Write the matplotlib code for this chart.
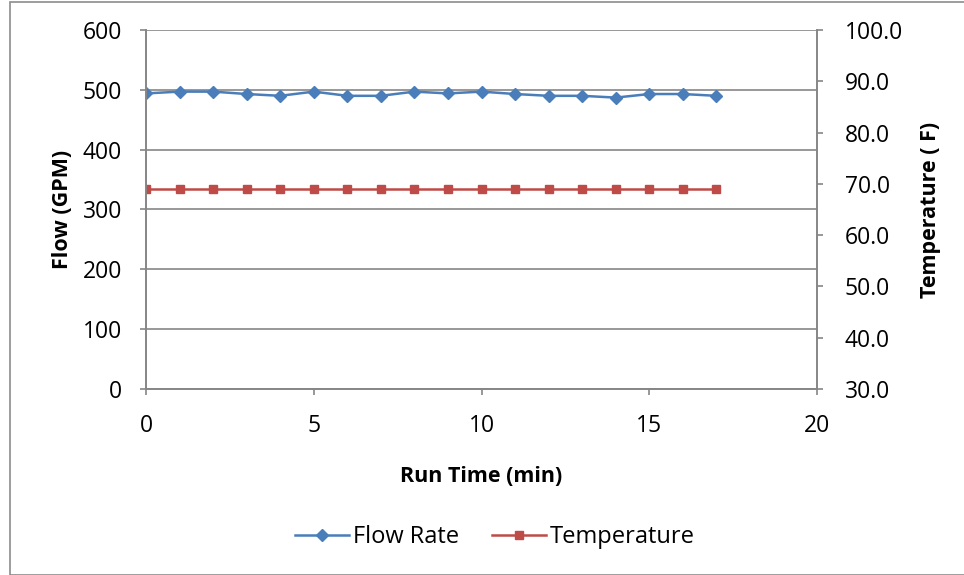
import matplotlib.pyplot as plt
from matplotlib.patches import Rectangle
from matplotlib.lines import Line2D

# Data
run_time = list(range(18))
flow_rate = [494, 497, 497, 493, 490, 497, 490, 490, 497, 494,
             497, 493, 490, 490, 487, 493, 493, 490]
temperature = [69.0] * 18

plt.rcParams['font.family'] = ['Open Sans', 'DejaVu Sans']

W, H = 964, 575
fig = plt.figure(figsize=(W / 100, H / 100), dpi=100)

# chart area border
fig.patches.append(Rectangle((10 / W, 0), 1.0, 1 - 2 / H, transform=fig.transFigure,
                             fill=False, edgecolor='#8c8c8c', linewidth=1.2))

ax = fig.add_axes([146 / W, 1 - 389 / H, (817 - 146) / W, (389 - 30) / H])
ax2 = ax.twinx()

blue = '#4a7ebb'
red = '#be4b48'
grid = '#868686'

ax.plot(run_time, flow_rate, color=blue, marker='D', markersize=6, linewidth=1.8)
ax2.plot(run_time, temperature, color=red, marker='s', markersize=6, linewidth=1.8)

ax.set_xlim(0, 20)
ax.set_ylim(0, 600)
ax.set_yticks(range(0, 601, 100))
ax.set_xticks(range(0, 21, 5))
ax2.set_ylim(30, 100)
ax2.set_yticks(range(30, 101, 10))
ax2.set_yticklabels([f'{v:.1f}' for v in range(30, 101, 10)])

ax.grid(axis='y', color=grid, linewidth=1.2)
ax.set_axisbelow(True)
for a in (ax, ax2):
    a.spines['top'].set_visible(False)
    for s in ('left', 'right', 'bottom'):
        a.spines[s].set_color(grid)
        a.spines[s].set_linewidth(1.2)
    a.tick_params(colors=grid, labelcolor='black', labelsize=16.5, length=4.3, width=1.2)

ax.set_xlabel('Run Time (min)', fontsize=15.5, fontweight='bold', labelpad=20)
ax.set_ylabel('Flow (GPM)', fontsize=15.5, fontweight='bold', labelpad=7)
ax2.set_ylabel('Temperature ( F)', fontsize=15.5, fontweight='bold', labelpad=12.5)
ax.tick_params(axis='x', pad=13.5)
ax.tick_params(axis='y', pad=13)
ax2.tick_params(axis='y', pad=15.5)

handles = [Line2D([], [], color=blue, marker='D', markersize=6, linewidth=1.8),
           Line2D([], [], color=red, marker='s', markersize=6, linewidth=1.8)]
fig.legend(handles, ['Flow Rate', 'Temperature'], loc='center', bbox_to_anchor=(495 / W, 1 - 537 / H),
           ncol=2, frameon=False, fontsize=17, handlelength=2.3, columnspacing=1.4, handletextpad=0.15)

fig.savefig('out.png', dpi=100)
